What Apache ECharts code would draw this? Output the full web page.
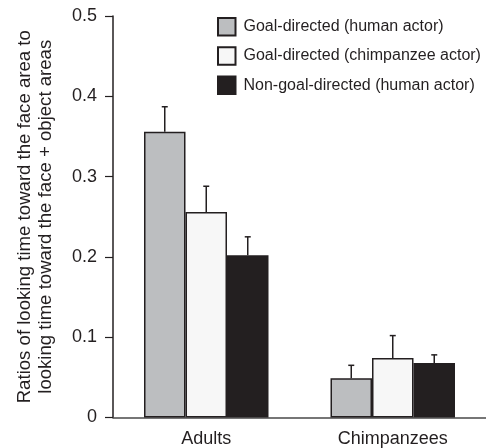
<!DOCTYPE html>
<html>
<head>
<meta charset="utf-8">
<script src="https://cdn.jsdelivr.net/npm/echarts@6/dist/echarts.min.js"></script>
<style>html,body{margin:0;padding:0;background:#fff}#c{width:486px;height:448px}</style>
</head>
<body>
<div id="c"></div>
<script>
const categories = ['Adults', 'Chimpanzees'];
const seriesNames = ['Goal-directed (human actor)', 'Goal-directed (chimpanzee actor)', 'Non-goal-directed (human actor)'];
const goalHuman = [0.356, 0.049];
const goalChimp = [0.256, 0.074];
const nonGoal = [0.202, 0.068];
const goalHumanErr = [0.031, 0.016];
const goalChimpErr = [0.032, 0.028];
const nonGoalErr = [0.023, 0.010];
const yTicks = [0, 0.1, 0.2, 0.3, 0.4, 0.5];

const values = [goalHuman, goalChimp, nonGoal];
const errors = [goalHumanErr, goalChimpErr, nonGoalErr];
const fills = ['#bcbec0', '#f7f7f7', '#231f20'];
const dark = '#231f20';
const BAR_W = 41.5;
const FONT = 'Liberation Sans, Arial, Helvetica, sans-serif';

const errData = [];
values.forEach((vals, s) => vals.forEach((v, i) => errData.push([i, v, errors[s][i], s])));

const chart = echarts.init(document.getElementById('c'));
chart.setOption({
  animation: false,
  grid: { left: 113, top: 16, width: 376, bottom: 30.5, containLabel: false },
  legend: {
    orient: 'vertical', left: 217, top: 17, padding: 0,
    itemWidth: 17.5, itemHeight: 17.5, itemGap: 9.8,
    icon: 'rect',
    data: seriesNames,
    textStyle: { fontFamily: FONT, fontSize: 16, color: dark, padding: [0, 0, 0, 3] }
  },
  xAxis: {
    type: 'category', data: categories,
    axisLine: { lineStyle: { color: '#4a4a4a', width: 1.5 } },
    axisTick: { show: false },
    axisLabel: { fontFamily: FONT, fontSize: 18, color: dark, margin: 12.5 }
  },
  yAxis: {
    type: 'value', min: 0, max: 0.5, interval: 0.1,
    name: 'Ratios of looking time toward the face area to\nlooking time toward the face + object areas',
    nameLocation: 'middle', nameRotate: 90, nameGap: 56,
    nameTextStyle: { fontFamily: FONT, fontSize: 18.6, color: dark, lineHeight: 21.5 },
    splitLine: { show: false },
    axisLine: { show: true, lineStyle: { color: dark, width: 1.5 } },
    axisTick: { show: true, length: 8, lineStyle: { color: dark, width: 1.2 } },
    axisLabel: {
      fontFamily: FONT, fontSize: 18, color: dark, margin: 16,
      formatter: v => { const t = yTicks.find(x => Math.abs(x - v) < 1e-9); return t === 0 ? '0' : String(t); }
    }
  },
  series: values.map((vals, s) => ({
    name: seriesNames[s], type: 'bar', data: vals,
    barWidth: BAR_W, barGap: '0%',
    itemStyle: { color: fills[s], borderColor: dark, borderWidth: 1.5 }
  })).concat([{
    name: 'errors', type: 'custom', data: errData, z: 5,
    encode: { x: 0, y: 1 },
    renderItem: (params, api) => {
      const ci = api.value(0), v = api.value(1), e = api.value(2), s = api.value(3);
      const base = api.coord([ci, v]);
      const top = api.coord([ci, v + e]);
      const x = base[0] + (s - 1) * BAR_W;
      const st = { stroke: dark, lineWidth: 1.5 };
      return { type: 'group', children: [
        { type: 'line', shape: { x1: x, y1: base[1], x2: x, y2: top[1] }, style: st },
        { type: 'line', shape: { x1: x - 3, y1: top[1], x2: x + 3, y2: top[1] }, style: st }
      ]};
    }
  }])
});
</script>
</body>
</html>
